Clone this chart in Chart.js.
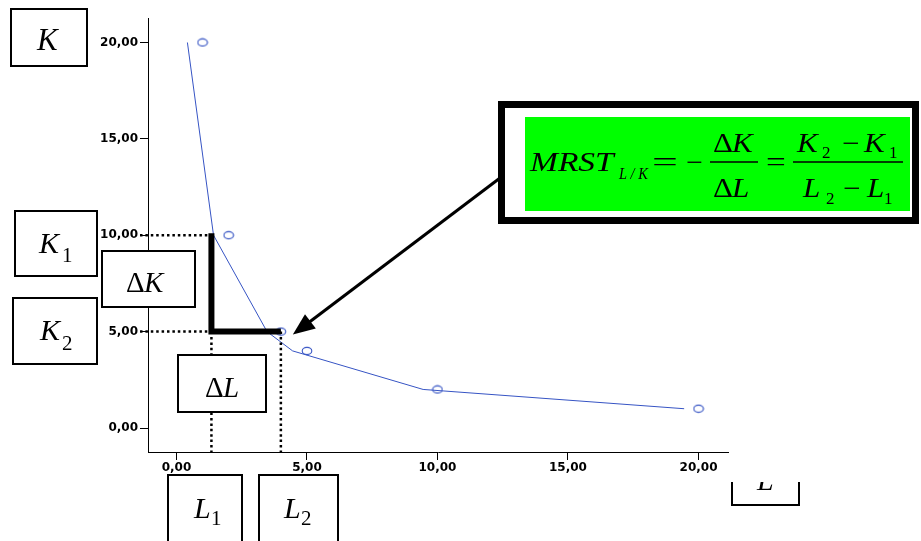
<!DOCTYPE html>
<html>
<head>
<meta charset="utf-8">
<script src="https://cdn.jsdelivr.net/npm/chart.js@4/dist/chart.umd.min.js"></script>
<style>
  html, body { margin: 0; padding: 0; background: #fff; }
  #wrap { width: 921px; height: 541px; position: relative; }
</style>
</head>
<body>
<div id="wrap"><canvas id="c" width="921" height="541"></canvas></div>
<script>
// Isoquant: observed input combinations (L, K) and the fitted curve
const tickValues = [0, 5, 10, 15, 20];
const pointL = [1, 2, 4, 5, 10, 20];
const pointK = [20, 10, 5, 4, 2, 1];
const curveL = [0.42, 1.42, 3.47, 4.45, 9.45, 19.45];
const curveK = [20, 10, 5, 4, 2, 1];
// The two combinations used for the marginal rate of technical substitution
const K1 = 10, K2 = 5;
const L1 = 1.34, L2 = 4;

const BLUE = '#3654c4';
const SERIF = '"Liberation Serif", "Times New Roman", Times, serif';

// hollow elliptical marker
function ellipseMarker() {
  const c = document.createElement('canvas');
  c.width = 12; c.height = 10;
  const g = c.getContext('2d');
  g.strokeStyle = BLUE; g.lineWidth = 1.1;
  g.beginPath(); g.ellipse(6, 5, 4.8, 3.6, 0, 0, Math.PI * 2); g.stroke();
  return c;
}

const fmt = v => v.toFixed(2).replace('.', ',');

// Framed labels: outer edges [left, top, right, bottom] and text runs
const boxes = [
  { r: [10, 8, 88, 67],    runs: [['K', 37, 50, 'i', 31]] },
  { r: [14, 210, 98, 277], runs: [['K', 39, 253, 'i', 30], ['1', 62, 262, 'n', 21]] },
  { r: [12, 297, 98, 365], runs: [['K', 40, 340, 'i', 30], ['2', 62, 350, 'n', 21]] },
  { r: [101, 250, 196, 308], runs: [['Δ', 126, 292, 'n', 29], ['K', 144, 292, 'i', 29]] },
  { r: [177, 354, 267, 413], runs: [['Δ', 205, 397, 'n', 29], ['L', 223, 397, 'i', 29]] },
  { r: [167, 474, 243, 548], runs: [['L', 194, 518, 'i', 30], ['1', 211, 525, 'n', 21]] },
  { r: [258, 474, 339, 548], runs: [['L', 284, 518, 'i', 30], ['2', 301, 525, 'n', 21]] },
  { r: [731, 455, 800, 506], runs: [['L', 757, 490, 'i', 30]], clipTop: 482 }
];

function run(ctx, t, x, y, style, size, sx) {
  ctx.save();
  ctx.font = (style === 'i' ? 'italic ' : '') + size + 'px ' + SERIF;
  ctx.fillStyle = '#000';
  ctx.textBaseline = 'alphabetic';
  ctx.textAlign = 'left';
  ctx.translate(x, y);
  ctx.scale(sx || 1, 1);
  ctx.fillText(t, 0, 0);
  ctx.restore();
}

function seg(ctx, x1, y1, x2, y2) {
  ctx.beginPath(); ctx.moveTo(x1, y1); ctx.lineTo(x2, y2); ctx.stroke();
}

const annotations = {
  id: 'annotations',
  afterDatasetsDraw(chart) {
    const { ctx, chartArea: a } = chart;
    const xs = chart.scales.x, ys = chart.scales.y;
    const px = v => xs.getPixelForValue(v), py = v => ys.getPixelForValue(v);

    // dotted guides to the axes
    ctx.save();
    ctx.strokeStyle = '#000';
    ctx.lineWidth = 2.5;
    ctx.setLineDash([2.5, 2.9]);
    seg(ctx, a.left - 8, py(K1), px(L1), py(K1));
    seg(ctx, a.left - 8, py(K2), px(L2), py(K2));
    seg(ctx, px(L1), py(K2), px(L1), a.bottom);
    seg(ctx, px(L2), py(K2), px(L2), a.bottom);
    ctx.restore();

    // ΔK / ΔL step
    ctx.save();
    ctx.strokeStyle = '#000';
    ctx.lineWidth = 6;
    ctx.lineJoin = 'miter';
    ctx.lineCap = 'butt';
    ctx.beginPath();
    ctx.moveTo(px(L1), py(K1) - 2);
    ctx.lineTo(px(L1), py(K2));
    ctx.lineTo(px(L2), py(K2));
    ctx.stroke();
    ctx.restore();

    // framed labels
    boxes.forEach(b => {
      const [l, t, r, btm] = b.r;
      ctx.save();
      if (b.clipTop) {
        ctx.beginPath(); ctx.rect(0, b.clipTop, 921, 541 - b.clipTop); ctx.clip();
      }
      ctx.fillStyle = '#fff';
      ctx.fillRect(l, t, r - l, btm - t);
      ctx.strokeStyle = '#000';
      ctx.lineWidth = 2;
      ctx.strokeRect(l + 1, t + 1, r - l - 2, btm - t - 2);
      b.runs.forEach(([s, x, y, st, sz]) => run(ctx, s, x, y, st, sz));
      ctx.restore();
    });

    // formula panel
    ctx.save();
    ctx.strokeStyle = '#000';
    ctx.lineWidth = 7;
    ctx.strokeRect(501.5, 104.5, 414, 116);
    ctx.fillStyle = '#00ff00';
    ctx.fillRect(525, 117, 385, 94);
    ctx.restore();

    const sx = 1.24, fs = 27;
    run(ctx, 'MRST', 530, 171, 'i', fs, sx);
    run(ctx, 'L / K', 619, 179, 'i', 16, 0.9);
    run(ctx, '=', 652, 171, 'n', fs, 1.7);
    run(ctx, '\u2212', 686, 171, 'n', fs, 1.1);
    // fraction bars
    ctx.save(); ctx.strokeStyle = '#000'; ctx.lineWidth = 1.5;
    seg(ctx, 710, 162, 758, 162);
    seg(ctx, 793, 162, 903, 162);
    ctx.restore();
    // ΔK / ΔL
    run(ctx, 'Δ', 713, 152, 'n', fs, 1.15);
    run(ctx, 'K', 732, 152, 'i', fs, 1.15);
    run(ctx, 'Δ', 713, 197, 'n', fs, 1.15);
    run(ctx, 'L', 732, 197, 'i', fs, 1.15);
    run(ctx, '=', 766, 171, 'n', fs, 1.3);
    // (K2 − K1)/(L2 − L1)
    run(ctx, 'K', 797, 152, 'i', fs, 1.15);
    run(ctx, '2', 822, 158, 'n', 17, 1.0);
    run(ctx, '\u2212', 842, 152, 'n', fs, 1.15);
    run(ctx, 'K', 864, 152, 'i', fs, 1.15);
    run(ctx, '1', 889, 158, 'n', 17, 1.0);
    run(ctx, 'L', 803, 197, 'i', fs, 1.15);
    run(ctx, '2', 826, 204, 'n', 17, 1.0);
    run(ctx, '\u2212', 843, 197, 'n', fs, 1.15);
    run(ctx, 'L', 867, 197, 'i', fs, 1.15);
    run(ctx, '1', 884, 204, 'n', 17, 1.0);

    // arrow from the formula to the (L2, K2) combination
    const tipX = px(L2) + 12, tipY = py(K2) + 3;
    const sX = 500, sY = 178;
    const ang = Math.atan2(tipY - sY, tipX - sX);
    const hl = 22, hw = 9;
    const bx = tipX - hl * Math.cos(ang), by = tipY - hl * Math.sin(ang);
    ctx.save();
    ctx.strokeStyle = '#000'; ctx.fillStyle = '#000';
    ctx.lineWidth = 3;
    seg(ctx, sX, sY, bx + 2 * Math.cos(ang), by + 2 * Math.sin(ang));
    ctx.beginPath();
    ctx.moveTo(tipX, tipY);
    ctx.lineTo(bx + hw * Math.sin(ang), by - hw * Math.cos(ang));
    ctx.lineTo(bx - hw * Math.sin(ang), by + hw * Math.cos(ang));
    ctx.closePath();
    ctx.fill();
    ctx.restore();
  }
};

const tickFont = { family: '"DejaVu Sans", sans-serif', size: 12, weight: 'bold' };

new Chart(document.getElementById('c'), {
  type: 'scatter',
  data: {
    datasets: [
      {
        label: 'curve',
        data: curveL.map((l, i) => ({ x: l, y: curveK[i] })),
        showLine: true,
        borderColor: BLUE,
        borderWidth: 1,
        pointRadius: 0,
        tension: 0,
        fill: false
      },
      {
        label: 'observed',
        data: pointL.map((l, i) => ({ x: l, y: pointK[i] })),
        showLine: false,
        pointStyle: ellipseMarker(),
        pointRadius: 5,
        borderColor: BLUE,
        backgroundColor: 'rgba(0,0,0,0)'
      }
    ]
  },
  options: {
    responsive: false,
    animation: false,
    devicePixelRatio: 1,
    layout: { padding: { left: 0, top: 18, right: 193, bottom: 0 } },
    plugins: { legend: { display: false }, tooltip: { enabled: false } },
    scales: {
      x: {
        type: 'linear',
        min: -1.09, max: 21.13,
        afterBuildTicks: s => { s.ticks = tickValues.map(v => ({ value: v })); },
        afterFit: s => { s.height = 89; },
        grid: { drawOnChartArea: false, drawTicks: true, tickLength: 8, color: '#000' },
        border: { display: true, color: '#000', width: 1 },
        ticks: { font: tickFont, color: '#000', padding: 1, maxRotation: 0, autoSkip: false, callback: v => fmt(v) }
      },
      y: {
        type: 'linear',
        min: -1.245, max: 21.27,
        afterBuildTicks: s => { s.ticks = tickValues.map(v => ({ value: v })); },
        afterFit: s => { s.width = 148; },
        grid: { drawOnChartArea: false, drawTicks: true, tickLength: 8, color: '#000' },
        border: { display: true, color: '#000', width: 1 },
        ticks: { font: tickFont, color: '#000', padding: 2, autoSkip: false, callback: v => fmt(v) }
      }
    }
  },
  plugins: [annotations]
});
</script>
</body>
</html>
